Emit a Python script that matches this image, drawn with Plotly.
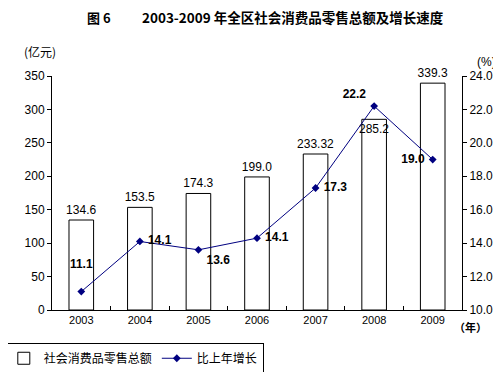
import plotly.graph_objects as go

years = ["2003", "2004", "2005", "2006", "2007", "2008", "2009"]
sales = [134.6, 153.5, 174.3, 199.0, 233.32, 285.2, 339.3]
sales_labels = ["134.6", "153.5", "174.3", "199.0", "233.32", "285.2", "339.3"]
growth = [11.1, 14.1, 13.6, 14.3, 17.3, 22.2, 19.0]
growth_labels = ["11.1", "14.1", "13.6", "14.1", "17.3", "22.2", "19.0"]
left_ticks = [0, 50, 100, 150, 200, 250, 300, 350]
right_ticks = [10, 12, 14, 16, 18, 20, 22, 24]

FONT = "Liberation Sans, Arial, sans-serif"
CJK = "Noto Sans CJK SC"

# page body has an 8px default margin; figure is sized to fit the 501x372 window
fig = go.Figure()
fig.add_trace(go.Bar(
    x=years, y=sales, name="社会消费品零售总额",
    marker=dict(color="white", line=dict(color="black", width=1)),
    text=sales_labels,
    textposition=["outside"] * 5 + ["inside", "outside"],
    insidetextanchor="end", textangle=0,
    textfont=dict(family=FONT, size=12, color="black"),
    constraintext="none", cliponaxis=False,
))
fig.add_trace(go.Scatter(
    x=years, y=growth, name="比上年增长", yaxis="y2",
    mode="lines+markers+text",
    line=dict(color="#000080", width=1),
    marker=dict(symbol="diamond", size=6, color="#000080"),
    text=[t + "<br> " if i == 0 else (" " + t if p.endswith("right") else (t + " " if p.endswith("left") else t))
          for i, (t, p) in enumerate(zip(growth_labels, ["top center", "middle right", "bottom right", "middle right",
                                                          "middle right", "top left", "middle left"]))],
    textposition=["top center", "middle right", "bottom right", "middle right",
                  "middle right", "top left", "middle left"],
    textfont=dict(family=FONT, size=12, color="black", weight="bold"),
    cliponaxis=False,
))

fig.update_layout(
    width=493, height=364,
    margin=dict(l=44, r=39, t=68, b=62, autoexpand=False),
    paper_bgcolor="white", plot_bgcolor="white",
    bargap=0.58,
    showlegend=True,
    legend=dict(orientation="h", x=-0.12, y=-0.14, xanchor="left", yanchor="top",
                bordercolor="black", borderwidth=1, bgcolor="white",
                font=dict(family=CJK, size=12, color="black"),
                tracegroupgap=0),
    xaxis=dict(type="category", showline=True, linecolor="black", linewidth=1,
               ticks="inside", ticklen=4, tickcolor="black", tickson="boundaries",
               tickfont=dict(family=FONT, size=11, color="black"),
               showgrid=False, automargin=False),
    yaxis=dict(range=[0, 350], tickvals=left_ticks, showline=True, linecolor="black",
               linewidth=1, ticks="outside", ticklen=4, tickcolor="black",
               tickfont=dict(family=FONT, size=12, color="black"), showgrid=False,
               zeroline=False, automargin=False),
    yaxis2=dict(range=[10, 24], tickvals=right_ticks, tickformat=".1f", overlaying="y",
                side="right", showline=True, linecolor="black", linewidth=1,
                ticks="outside", ticklen=4, tickcolor="black",
                tickfont=dict(family=FONT, size=12, color="black"), showgrid=False,
                zeroline=False, automargin=False),
)

TY = 1 + (76 - 17) / 234
fig.add_annotation(text="图 6", xref="paper", yref="paper", x=(85 - 52) / 410, y=TY,
                   xanchor="left", yanchor="middle", showarrow=False,
                   font=dict(family=CJK, size=13, color="black", weight="bold"))
fig.add_annotation(text="2003-2009 年全区社会消费品零售总额及增长速度", xref="paper", yref="paper",
                   x=(140 - 52) / 410, y=TY,
                   xanchor="left", yanchor="middle", showarrow=False,
                   font=dict(family=CJK, size=13.5, color="black", weight="bold"))
fig.add_annotation(text="(亿元)", xref="paper", yref="paper", x=(22 - 52) / 410, y=1 + (76 - 52) / 234,
                   xanchor="left", yanchor="middle", showarrow=False,
                   font=dict(family=CJK, size=12, color="black"))
fig.add_annotation(text="(%)", xref="paper", yref="paper", x=(498 - 52) / 410, y=1 + (76 - 62) / 234,
                   xanchor="right", yanchor="middle", showarrow=False,
                   font=dict(family=FONT, size=12, color="black"))
fig.add_annotation(text="（年）", xref="paper", yref="paper", x=(452 - 52) / 410, y=-(327 - 310) / 234,
                   xanchor="left", yanchor="middle", showarrow=False,
                   font=dict(family=CJK, size=11, color="black", weight="bold"))

fig.write_html("out.html")
